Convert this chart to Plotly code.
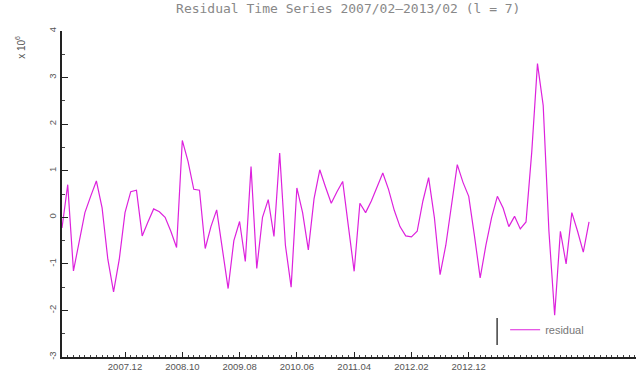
import plotly.graph_objects as go

# Residual values (x 10^6), monthly, starting 2007.01
residual = [
    -0.23, 0.70, -1.15, -0.55, 0.10, 0.45, 0.78, 0.20, -0.90, -1.60,
    -0.90, 0.10, 0.55, 0.58, -0.40, -0.10, 0.18, 0.12, 0.00, -0.30,
    -0.65, 1.65, 1.20, 0.60, 0.58, -0.67, -0.20, 0.16, -0.70, -1.53,
    -0.50, -0.09, -0.95, 1.09, -1.10, 0.00, 0.38, -0.41, 1.38, -0.60,
    -1.50, 0.63, 0.10, -0.70, 0.40, 1.02, 0.65, 0.30, 0.55, 0.77,
    -0.20, -1.16, 0.30, 0.10, 0.35, 0.65, 0.95, 0.60, 0.15, -0.20,
    -0.40, -0.42, -0.30, 0.35, 0.85, 0.00, -1.23, -0.60, 0.30, 1.13,
    0.75, 0.45, -0.40, -1.30, -0.60, 0.00, 0.45, 0.20, -0.20, 0.02,
    -0.25, -0.10, 1.40, 3.30, 2.40, -0.30, -2.10, -0.30, -1.00, 0.10,
    -0.30, -0.75, -0.10,
]
month_index = list(range(len(residual)))

x_tick_pos = [11, 21, 31, 41, 51, 61, 71]
x_tick_labels = ["2007.12", "2008.10", "2009.08", "2010.06", "2011.04", "2012.02", "2012.12"]
y_tick_vals = [-3, -2, -1, 0, 1, 2, 3, 4]
y_tick_labels = ["-3", "-2", "-1", "0", "1", "2", "3", "4"]

title_text = "Residual Time Series 2007/02\u20142013/02 (l = 7)"
series_name = "residual"

fig = go.Figure()
fig.add_trace(go.Scatter(
    x=month_index, y=residual, mode="lines", name=series_name,
    line=dict(color="#dd22dd", width=1.2),
))

fig.update_layout(
    width=639, height=382,
    margin=dict(l=62, r=3, t=31, b=25),
    paper_bgcolor="white", plot_bgcolor="white",
    title=dict(text=title_text, x=0.545, xanchor="center", y=0.99, yanchor="top",
               font=dict(family="DejaVu Sans Mono", size=13, color="#888888")),
    showlegend=True,
    legend=dict(x=0.772, y=0.128, xanchor="left", yanchor="top",
                bgcolor="rgba(0,0,0,0)", borderwidth=0,
                font=dict(family="Liberation Sans", size=11, color="#777777")),
    font=dict(family="Liberation Sans", size=9, color="#555555"),
)

fig.update_xaxes(
    range=[0, 100.2], showgrid=False, zeroline=False,
    showline=True, linecolor="#222222", linewidth=1.5,
    tickmode="array", tickvals=x_tick_pos, ticktext=x_tick_labels,
    ticks="inside", ticklen=5, tickcolor="#222222",
    tickfont=dict(size=9.5, color="#555555"),
    minor=dict(dtick=1, tick0=0, ticks="inside", ticklen=2, tickcolor="#444444"),
)
fig.update_yaxes(
    range=[-3, 4], showgrid=False, zeroline=False,
    showline=True, linecolor="#222222", linewidth=1.5,
    tickmode="array", tickvals=y_tick_vals, ticktext=y_tick_labels,
    ticks="inside", ticklen=6, tickcolor="#222222", tickangle=-90,
    tickfont=dict(size=9.5, color="#555555"),
    minor=dict(tickvals=[v + 0.5 for v in y_tick_vals[:-1]], ticks="inside", ticklen=3, tickcolor="#444444"),
)

fig.add_annotation(text="x 10<sup>6</sup>", xref="paper", yref="paper",
                   x=-0.073, y=0.99, xanchor="center", yanchor="top", textangle=-90,
                   showarrow=False, font=dict(size=10, color="#555555"))
fig.add_shape(type="line", xref="paper", yref="paper",
              x0=0.758, x1=0.758, y0=0.037, y1=0.12,
              line=dict(color="#111111", width=1.2))

fig.write_html("out.html")
